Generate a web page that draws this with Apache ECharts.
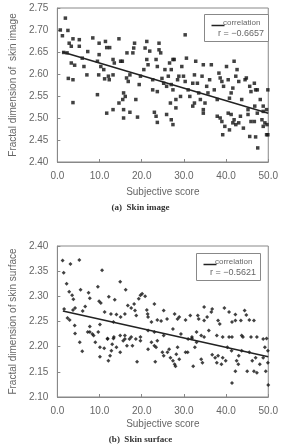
<!DOCTYPE html>
<html>
<head>
<meta charset="utf-8">
<script src="https://cdn.jsdelivr.net/npm/echarts@6/dist/echarts.min.js"></script>
<style>
  html, body { margin: 0; padding: 0; background: #fff; }
  #chart { width: 281px; height: 447px; }
</style>
</head>
<body>
<div id="chart"></div>
<script>
// (a) skin image: subjective score vs fractal dimension
const imageScore = [0.7,1.2,1.9,2.5,1.5,2.3,2.8,3.3,3.7,2.6,3.7,3.3,4.1,3.7,5.2,5.2,5.9,6.3,7.0,7.2,8.4,9.5,9.9,9.9,9.8,9.5,11.4,11.7,12.4,12.1,11.0,11.2,12.3,13.2,10.3,13.2,13.5,14.6,15.0,15.4,14.6,15.5,16.1,15.7,16.5,16.8,16.4,17.2,17.9,18.1,18.3,18.6,19.4,19.7,20.5,20.8,21.2,21.2,21.9,21.5,22.6,23.4,23.7,24.1,24.1,24.5,22.6,23.7,24.8,25.2,25.5,25.9,26.3,26.6,27.0,27.4,27.7,27.0,27.4,28.5,28.8,28.1,29.2,29.5,30.3,29.9,30.3,30.6,31.0,31.4,32.1,32.5,32.8,33.2,33.5,33.9,34.3,34.6,35.0,35.4,35.7,36.1,36.5,37.2,37.9,38.3,38.6,39.0,39.4,40.1,40.5,40.8,41.2,41.6,41.9,42.3,42.6,43.0,43.7,44.5,44.8,45.6,45.9,46.7,47.0,47.4,48.1,48.8,49.6,49.9,
  11.7,13.2,15.7,15.7,17.2,19.0,23.0,23.4,23.7,25.9,26.8,27.0,27.4,28.1,32.1,32.5,34.6,34.6,37.9,38.6,39.0,39.2,39.7,40.5,40.8,41.2,41.6,41.9,42.3,43.0,43.4,44.1,45.2,45.2,45.6,45.9,46.7,46.8,47.0,47.4,47.5,48.5,48.8,48.8,49.2,49.6,49.7,49.9];
const imageFractal = [2.700,2.687,2.727,2.699,2.649,2.648,2.670,2.663,2.680,2.590,2.587,2.625,2.620,2.535,2.663,2.678,2.636,2.617,2.598,2.651,2.682,2.629,2.644,2.670,2.598,2.553,2.674,2.660,2.660,2.595,2.610,2.589,2.587,2.598,2.617,2.633,2.625,2.680,2.629,2.629,2.534,2.542,2.549,2.557,2.648,2.583,2.591,2.598,2.648,2.659,2.670,2.542,2.576,2.595,2.610,2.659,2.674,2.633,2.652,2.621,2.587,2.633,2.617,2.655,2.670,2.648,2.564,2.560,2.590,2.579,2.610,2.572,2.595,2.625,2.610,2.633,2.633,2.576,2.564,2.587,2.595,2.542,2.549,2.617,2.689,2.595,2.583,2.636,2.564,2.549,2.579,2.598,2.629,2.579,2.557,2.542,2.595,2.621,2.534,2.572,2.557,2.587,2.621,2.564,2.542,2.602,2.591,2.583,2.572,2.617,2.587,2.545,2.557,2.568,2.629,2.595,2.610,2.583,2.542,2.587,2.591,2.572,2.560,2.579,2.564,2.564,2.542,2.527,2.519,2.564,
  2.511,2.519,2.519,2.500,2.513,2.502,2.513,2.504,2.490,2.508,2.534,2.496,2.485,2.523,2.527,2.534,2.519,2.511,2.504,2.500,2.492,2.462,2.481,2.511,2.473,2.508,2.489,2.496,2.485,2.489,2.504,2.477,2.519,2.508,2.458,2.492,2.492,2.527,2.457,2.511,2.432,2.496,2.515,2.481,2.489,2.462,2.485,2.462];
const imageFitX = [1.2, 50];
const imageFitY = [2.650, 2.511];

// (b) skin surface
const surfaceScore = [1.25,1.5,2.2,3.1,2.8,3.5,3.8,1.6,2.4,2.9,3.7,4.2,4.1,5.2,5.5,6.0,6.6,7.4,7.7,7.7,9.6,9.9,10.3,10.6,10.1,11.2,12.2,12.7,13.6,14.0,13.3,14.9,15.0,16.0,16.2,16.7,17.5,18.2,18.4,18.7,19.3,19.7,20.1,20.8,21.2,21.4,21.5,22.3,23.7,24.6,26.0,27.8,28.5,28.9,30.4,33.3,33.5,34.8,36.7,36.5,38.1,38.5,40.7,41.4,42.2,43.5,45.5,
  35.5,39.6,42.2,44.4,46.6,44.8,23.0,25.2,31.5,34.8,
  7.2,8.3,9.7,11.9,13.4,14.9,16.0,17.1,18.6,19.7,21.5,23.0,25.2,27.4,29.3,31.0,31.9,33.0,34.1,35.9,37.8,39.2,41.4,43.7,45.9,47.3,48.8,
  4.2,5.3,5.9,7.7,8.6,9.0,10.1,10.1,11.1,11.9,12.1,12.5,12.8,13.0,13.3,14.0,14.9,15.6,16.0,16.5,17.5,17.8,18.9,19.7,21.5,22.3,23.0,23.4,23.2,23.7,24.9,25.2,26.1,26.5,26.8,27.4,27.8,28.0,28.2,28.5,28.9,30.4,30.9,31.9,32.2,32.6,33.0,34.1,34.4,34.8,36.7,37.4,37.8,38.1,38.9,39.2,39.9,40.3,40.7,41.3,41.4,42.2,42.5,42.9,43.0,43.7,44.0,45.0,45.5,46.2,46.6,47.0,47.3,48.0,48.8,49.2,49.4,49.6,49.9,50.0,49.9];
const surfaceFractal = [2.371,2.347,2.325,2.364,2.309,2.302,2.294,2.275,2.257,2.253,2.273,2.277,2.242,2.372,2.313,2.271,2.280,2.307,2.296,2.240,2.319,2.290,2.287,2.352,2.244,2.269,2.299,2.265,2.293,2.264,2.249,2.329,2.259,2.265,2.313,2.282,2.277,2.285,2.272,2.262,2.295,2.302,2.305,2.300,2.273,2.265,2.259,2.249,2.253,2.251,2.255,2.265,2.255,2.259,2.253,2.262,2.255,2.252,2.275,2.269,2.252,2.245,2.269,2.249,2.252,2.252,2.253,
  2.259,2.277,2.264,2.272,2.252,2.263,2.285,2.272,2.262,2.279,
  2.229,2.225,2.229,2.215,2.219,2.222,2.215,2.215,2.215,2.212,2.232,2.229,2.222,2.235,2.225,2.215,2.219,2.229,2.222,2.232,2.222,2.219,2.219,2.222,2.219,2.219,2.215,
  2.226,2.209,2.191,2.229,2.222,2.209,2.199,2.180,2.197,2.216,2.172,2.182,2.192,2.205,2.216,2.199,2.189,2.212,2.222,2.202,2.219,2.202,2.170,2.219,2.195,2.209,2.202,2.199,2.170,2.212,2.189,2.182,2.189,2.195,2.178,2.172,2.165,2.161,2.185,2.199,2.175,2.189,2.189,2.216,2.161,2.199,2.209,2.175,2.168,2.219,2.184,2.178,2.168,2.182,2.165,2.178,2.172,2.199,2.219,2.192,2.128,2.151,2.172,2.165,2.182,2.192,2.219,2.151,2.189,2.172,2.151,2.178,2.148,2.165,2.178,2.199,2.151,2.216,2.192,2.124,2.168];
const surfaceFitX = [1.3, 50];
const surfaceFitY = [2.271, 2.180];

const imageR = 'r = \u22120.6657';
const surfaceR = 'r = \u22120.5621';

const zip = (xs, ys) => xs.map((x, i) => [x, ys[i]]);

const chart = echarts.init(document.getElementById('chart'), null, { renderer: 'canvas' });

const grey = '#666';
const font = 'Liberation Sans, Arial, sans-serif';

function xAxis(gridIndex, gap) {
  return {
    type: 'value', gridIndex, min: 0, max: 50, interval: 10,
    name: 'Subjective score', nameLocation: 'middle', nameGap: gap,
    nameTextStyle: { color: grey, fontSize: 10, fontFamily: font },
    axisLine: { lineStyle: { color: '#888' } },
    axisTick: { inside: true, length: 3, lineStyle: { color: '#888' } },
    axisLabel: { color: grey, fontSize: 10, fontFamily: font, margin: 9, formatter: v => v.toFixed(1) },
    splitLine: { show: false }
  };
}

function yAxis(gridIndex, min, max, name) {
  return {
    type: 'value', gridIndex, min, max, interval: 0.05,
    name, nameLocation: 'middle', nameGap: 33,
    nameTextStyle: { color: grey, fontSize: 10, fontFamily: font },
    axisLine: { show: true, lineStyle: { color: '#888' } },
    axisTick: { inside: true, length: 3, lineStyle: { color: '#888' } },
    axisLabel: { color: grey, fontSize: 10, fontFamily: font, margin: 9, formatter: v => v.toFixed(2) },
    splitLine: { show: false }
  };
}

function legendBox(left, top, r) {
  return [
    { type: 'rect', left, top, shape: { width: 64, height: 27 }, style: { fill: '#fff', stroke: '#888', lineWidth: 1 }, z: 100 },
    { type: 'line', left: left + 5, top: top + 9, shape: { x1: 0, y1: 0, x2: 13, y2: 0 }, style: { stroke: '#222', lineWidth: 1.5 }, z: 101 },
    { type: 'text', left: left + 19, top: top + 5, style: { text: 'correlation', fill: grey, font: '8px ' + font }, z: 101 },
    { type: 'text', left: left + 14, top: top + 15, style: { text: r, fill: grey, font: '9px ' + font }, z: 101 }
  ];
}

chart.setOption({
  animation: false,
  backgroundColor: '#fff',
  grid: [
    { left: 43, top: 8, width: 230, height: 154, show: true, borderColor: '#888', borderWidth: 1 },
    { left: 43, top: 246, width: 226, height: 151, show: true, borderColor: '#888', borderWidth: 1 }
  ],
  xAxis: [xAxis(0, 25), xAxis(1, 22)],
  yAxis: [
    yAxis(0, 2.40, 2.75, 'Fractal dimension of  skin image'),
    yAxis(1, 2.10, 2.40, 'Fractal dimension of skin surface')
  ],
  series: [
    { type: 'scatter', xAxisIndex: 0, yAxisIndex: 0, symbol: 'rect', symbolSize: 3.5,
      itemStyle: { color: '#111' }, data: zip(imageScore, imageFractal) },
    { type: 'line', name: 'correlation', xAxisIndex: 0, yAxisIndex: 0, symbol: 'none',
      lineStyle: { color: '#222', width: 1.5 }, data: zip(imageFitX, imageFitY) },
    { type: 'scatter', xAxisIndex: 1, yAxisIndex: 1, symbol: 'diamond', symbolSize: 4,
      itemStyle: { color: '#111' }, data: zip(surfaceScore, surfaceFractal) },
    { type: 'line', name: 'correlation', xAxisIndex: 1, yAxisIndex: 1, symbol: 'none',
      lineStyle: { color: '#222', width: 1.5 }, data: zip(surfaceFitX, surfaceFitY) }
  ],
  graphic: [
    ...legendBox(204, 14, imageR),
    ...legendBox(196, 253, surfaceR),
    { type: 'text', left: 'center', top: 203, style: { text: '(a)  Skin image', fill: '#333', font: 'bold 9px Liberation Serif, serif' } },
    { type: 'text', left: 'center', top: 435, style: { text: '(b)  Skin surface', fill: '#333', font: 'bold 9px Liberation Serif, serif' } }
  ]
});

window.onresize = function () {
  chart.resize();
};
</script>
</body>
</html>
